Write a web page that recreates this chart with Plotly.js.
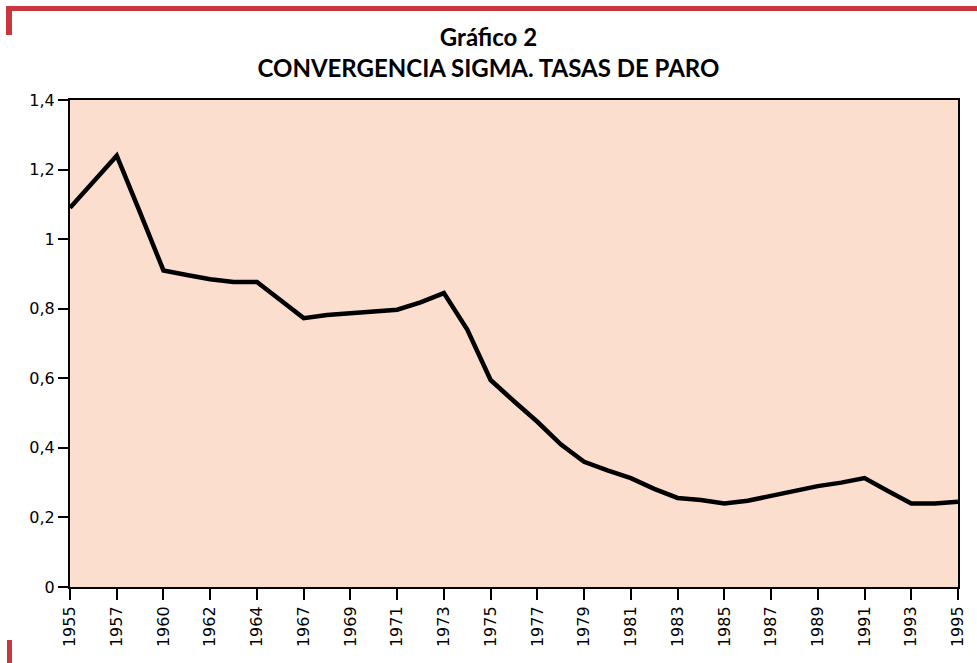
<!DOCTYPE html>
<html>
<head>
<meta charset="utf-8">
<script src="https://cdn.plot.ly/plotly-3.0.1.min.js"></script>
<style>
html,body{margin:0;padding:0;background:#ffffff;}
#chart{width:977px;height:663px;}
</style>
</head>
<body>
<div id="chart"></div>
<script>
// Data
const years = ["1955","1956","1957","1959","1960","1961","1962","1963","1964","1966",
               "1967","1968","1969","1970","1971","1972","1973","1974","1975","1976",
               "1977","1978","1979","1980","1981","1982","1983","1984","1985","1986",
               "1987","1988","1989","1990","1991","1992","1993","1994","1995"];
const sigma = [1.09, 1.165, 1.24, 1.076, 0.91, 0.897, 0.885, 0.877, 0.877, 0.825,
               0.773, 0.782, 0.787, 0.791, 0.797, 0.818, 0.845, 0.74, 0.595, 0.534,
               0.475, 0.41, 0.36, 0.335, 0.313, 0.282, 0.256, 0.25, 0.24, 0.248,
               0.262, 0.276, 0.29, 0.30, 0.313, 0.276, 0.24, 0.24, 0.245];
const tickYears = ["1955","1957","1960","1962","1964","1967","1969","1971","1973","1975",
                   "1977","1979","1981","1983","1985","1987","1989","1991","1993","1995"];
const yTicks = [0, 0.2, 0.4, 0.6, 0.8, 1, 1.2, 1.4];
const titleLine1 = "Gráfico 2";
const titleLine2 = "CONVERGENCIA SIGMA. TASAS DE PARO";

// layout geometry
const W = 977, H = 663, L = 70, R = 19, T = 100, B = 76;
const pw = W - L - R, ph = H - T - B;
const fx = px => (px - L) / pw;
const fy = py => (H - B - py) / ph;
const RED = "#c8373e";

const trace = {
  x: years, y: sigma, type: "scatter", mode: "lines",
  line: {color: "#000000", width: 4.5}, hoverinfo: "x+y", showlegend: false
};

const tickFont = {family: "DejaVu Sans, sans-serif", size: 16, color: "#000000"};

const layout = {
  width: W, height: H,
  margin: {l: L, r: R, t: T, b: B, pad: 0},
  paper_bgcolor: "#ffffff",
  plot_bgcolor: "#fcdece",
  separators: ", ",
  title: {
    text: "<b>" + titleLine1 + "</b><br><b>" + titleLine2 + "</b>",
    x: 0.5, xref: "container", xanchor: "center",
    y: 1 - 46 / H, yref: "container", yanchor: "middle",
    font: {family: "Lato, 'Noto Sans', sans-serif", size: 24, color: "#000000"}
  },
  xaxis: {
    type: "category",
    range: [0, years.length - 1],
    tickmode: "array", tickvals: tickYears, ticktext: tickYears,
    tickangle: -90,
    ticks: "outside", ticklen: 11, tickwidth: 2, tickcolor: "#000000",
    tickfont: tickFont,
    showline: true, linecolor: "#000000", linewidth: 2, mirror: true,
    showgrid: false, zeroline: false, fixedrange: true
  },
  yaxis: {
    range: [0, 1.4],
    tickmode: "array", tickvals: yTicks,
    ticks: "outside", ticklen: 10, tickwidth: 2, tickcolor: "#000000",
    tickfont: tickFont,
    showline: true, linecolor: "#000000", linewidth: 2, mirror: true,
    showgrid: false, zeroline: false, fixedrange: true
  },
  shapes: [
    {type: "rect", xref: "paper", yref: "paper", x0: fx(6), x1: fx(977), y0: fy(11), y1: fy(6),
     fillcolor: RED, line: {width: 0}, layer: "above"},
    {type: "rect", xref: "paper", yref: "paper", x0: fx(6), x1: fx(12), y0: fy(35), y1: fy(6),
     fillcolor: RED, line: {width: 0}, layer: "above"},
    {type: "rect", xref: "paper", yref: "paper", x0: fx(7), x1: fx(12), y0: fy(663), y1: fy(640),
     fillcolor: RED, line: {width: 0}, layer: "above"}
  ]
};

Plotly.newPlot("chart", [trace], layout, {displayModeBar: false, staticPlot: true});
</script>
</body>
</html>
